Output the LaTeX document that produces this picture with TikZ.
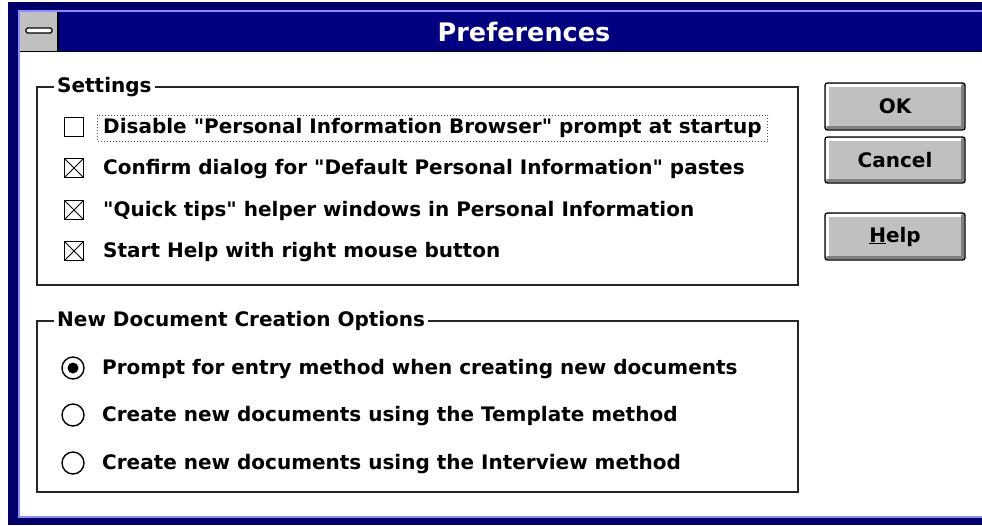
\documentclass[tikz,border=0pt]{standalone}
\usepackage{fontspec}
\setmainfont{DejaVu Sans}[Ligatures=TeXOff]
\usetikzlibrary{positioning}
\definecolor{navy}{HTML}{000080}
\definecolor{rim}{HTML}{00006C}
\definecolor{glint}{HTML}{8C8CFF}
\definecolor{btngray}{HTML}{C0C0C0}
\definecolor{btndark}{HTML}{808080}
\newcommand{\bevel}[1]{%
  \draw[white,line width=2.5pt] ([xshift=3pt,yshift=5pt]#1.south west) -- ([xshift=3pt,yshift=-3pt]#1.north west) -- ([xshift=-5pt,yshift=-3pt]#1.north east);
  \draw[btndark,line width=3pt] ([xshift=3pt,yshift=3.5pt]#1.south west) -- ([xshift=-3.5pt,yshift=3.5pt]#1.south east) -- ([xshift=-3.5pt,yshift=-3pt]#1.north east);}

\begin{document}
\begin{tikzpicture}[x=1pt,y=-1pt,
  lbl/.style={font=\fontsize{20}{24}\selectfont\bfseries,anchor=west,inner sep=0pt,text height=15pt,text depth=4pt},
  grouptitle/.style={lbl,fill=white,inner xsep=3pt},
  group/.style={draw=black!85,line width=1.6pt},
  checkbox/.style={draw=black,line width=1.6pt,minimum size=19pt,inner sep=0pt},
  crossed/.style={checkbox,path picture={\draw[line width=1pt] (path picture bounding box.north west)--(path picture bounding box.south east) (path picture bounding box.north east)--(path picture bounding box.south west);}},
  radio/.style={circle,draw=black,line width=1.4pt,minimum size=22pt,inner sep=0pt},
  button/.style={draw=black,line width=1.4pt,rounded corners=2.5pt,fill=btngray,minimum width=140pt,minimum height=46pt},
  btnlabel/.style={font=\fontsize{20}{24}\selectfont\bfseries},
  focus/.style={draw=black!70,dotted,line width=1pt}
]
\useasboundingbox (0,0) rectangle (982,525);
% window frame and caption
\fill[rim] (8,2) rectangle (982,525);
\fill[white] (20,12) rectangle (982,517);
\draw[glint,line width=1.2pt] (19,518) -- (19,11) -- (982,11);
\draw[glint,line width=1.2pt] (19,517) -- (982,517);
\fill[navy] (20,12) rectangle (982,51);
\fill[btngray] (20,12) rectangle (58,51);
\draw[black,line width=1.2pt] (58,12) -- (58,51);
\draw[black,line width=1.5pt] (20,51.5) -- (982,51.5);
\filldraw[fill=white,draw=black,line width=1.2pt,rounded corners=1.5pt] (26,28) rectangle (52,33);
\node[font=\fontsize{25.5}{30}\selectfont\bfseries,text=white] (caption) at (524,32) {Preferences};

% settings group
\draw[group] (37,87) rectangle (798,285);
\node[grouptitle] (settings) at (54,87) {Settings};
\node[checkbox] (cb1) at (74,127) {};
\node[crossed] (cb2) at (74,168) {};
\node[crossed] (cb3) at (74,210) {};
\node[crossed] (cb4) at (74,251) {};
\node[lbl] (disable) at (103,128) {Disable "Personal Information Browser" prompt at startup};
\node[lbl] (confirm) at (103,169) {Confirm dialog for "Default Personal Information" pastes};
\node[lbl] (tips) at (103,211) {"Quick tips" helper windows in Personal Information};
\node[lbl] (righthelp) at (103,252) {Start Help with right mouse button};
\draw[focus] ([shift={(-6pt,3pt)}]disable.north west) rectangle ([shift={(6pt,-4pt)}]disable.south east);

% new document group
\draw[group] (37,321) rectangle (798,492);
\node[grouptitle] (newdoc) at (54,321) {New Document Creation Options};
\node[radio] (rb1) at (73,368) {};
\node[radio] (rb2) at (73,415) {};
\node[radio] (rb3) at (73,463) {};
\fill (rb1) circle (5.5pt);
\node[lbl] (prompt) at (102,369) {Prompt for entry method when creating new documents};
\node[lbl] (template) at (102,416) {Create new documents using the Template method};
\node[lbl] (interview) at (102,464) {Create new documents using the Interview method};

% buttons
\node[button,minimum height=47pt] (ok) at (895,106.5) {};
\node[button] (cancel) at (895,160) {};
\node[button,minimum height=47pt] (help) at (895,236.5) {};
\bevel{ok}
\bevel{cancel}
\bevel{help}
\node[btnlabel] (oklbl) at (ok) {OK};
\node[btnlabel] (cancellbl) at (cancel) {Cancel};
\node[btnlabel] (helplbl) at (help) {\underline{H}elp};
\end{tikzpicture}
\end{document}
